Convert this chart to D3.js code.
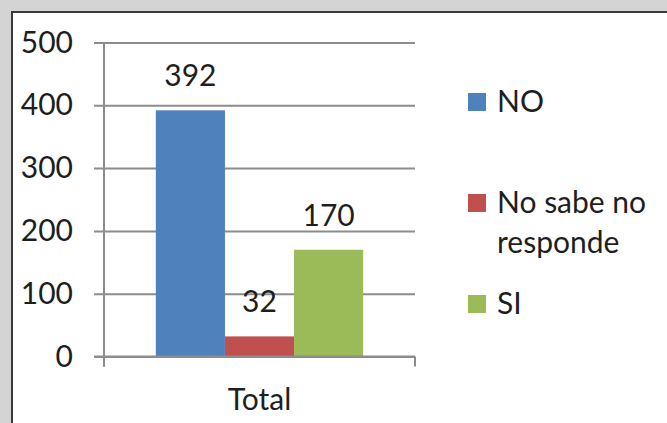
<!DOCTYPE html>
<html>
<head>
<meta charset="utf-8">
<script src="https://cdn.jsdelivr.net/npm/d3@7"></script>
<style>
  body { margin: 0; background: #d4d4d4; }
  svg { display: block; }
  text { font-family: Lato, "Open Sans", sans-serif; fill: #1e1e1e; }
</style>
</head>
<body>
<svg id="chart" width="667" height="423"></svg>
<script>
// data
var categories = ['Total'];
var series = ['NO', 'No sabe no responde', 'SI'];
var values = [392, 32, 170];
var yTicks = [0, 100, 200, 300, 400, 500];
var colors = ['#4f81bd', '#c0504d', '#9bbb59'];

var svg = d3.select('#chart');
var width = 667;
var height = 423;
var plot_left = 104, plot_right = 415;
var plot_top = 42.5, plot_bottom = 356.5;
var font_size = 30;

// panel
svg.append('rect').attr('width', width).attr('height', height).attr('fill', '#d4d4d4');
svg.append('rect')
    .attr('x', 12).attr('y', 12)
    .attr('width', width + 20).attr('height', height + 20)
    .attr('fill', '#fff')
    .attr('stroke', '#3a3a3a')
    .attr('stroke-width', 2);

var y = d3.scaleLinear().domain([0, 500]).range([plot_bottom, plot_top]);
var x = d3.scaleBand().domain(categories).range([plot_left, plot_right]);
var x1 = d3.scaleBand().domain(series).range([0, x.bandwidth()]).paddingOuter(0.75);

// grid + y labels (one axis from the right edge, ticks run to the left of the y line)
var yAxis = d3.axisLeft(y).tickValues(yTicks).tickSize(plot_right - plot_left + 10).tickPadding(21);
svg.append('g')
    .attr('transform', 'translate(' + plot_right + ',0)')
    .call(yAxis)
    .call(function(g) {
        g.select('.domain').remove();
        g.selectAll('.tick line').attr('stroke', '#8c8c8c').attr('stroke-width', 2);
        g.selectAll('.tick text')
            .attr('font-size', font_size)
            .attr('font-family', 'Lato, "Open Sans", sans-serif')
            .attr('fill', '#1e1e1e');
    });

// y axis line
svg.append('line')
    .attr('x1', plot_left).attr('x2', plot_left)
    .attr('y1', y(500)).attr('y2', y(0) + 10)
    .attr('stroke', '#8c8c8c').attr('stroke-width', 2);

// bars
var groups = svg.selectAll('g.cat').data(categories).enter().append('g')
    .attr('class', 'cat')
    .attr('transform', function(d) { return 'translate(' + x(d) + ',0)'; });

var bars = series.map(function(s, i) { return {name: s, value: values[i], color: colors[i]}; });

groups.selectAll('rect').data(bars).enter().append('rect')
    .attr('x', function(d) { return x1(d.name); })
    .attr('width', x1.bandwidth())
    .attr('y', function(d) { return y(d.value); })
    .attr('height', function(d) { return y(0) - y(d.value); })
    .attr('fill', function(d) { return d.color; });

groups.selectAll('text.val').data(bars).enter().append('text')
    .attr('class', 'val')
    .attr('x', function(d) { return x1(d.name) + x1.bandwidth() / 2; })
    .attr('y', function(d) { return y(d.value) - 24; })
    .attr('text-anchor', 'middle')
    .attr('font-size', font_size)
    .text(function(d) { return d.value; });

// x axis (drawn over bars bottom)
var xAxis = d3.axisBottom(x).tickSize(0).tickPadding(0);
svg.append('g')
    .attr('transform', 'translate(0,' + y(0) + ')')
    .call(xAxis)
    .call(function(g) {
        g.select('.domain').remove();
        g.selectAll('.tick text')
            .attr('y', 53).attr('dy', 0)
            .attr('font-size', font_size)
            .attr('font-family', 'Lato, "Open Sans", sans-serif')
            .attr('fill', '#1e1e1e');
    });
svg.append('line')
    .attr('x1', plot_left - 10).attr('x2', plot_right)
    .attr('y1', y(0)).attr('y2', y(0))
    .attr('stroke', '#8c8c8c').attr('stroke-width', 2);
x.range().forEach(function(px) {
    svg.append('line')
        .attr('x1', px).attr('x2', px)
        .attr('y1', y(0)).attr('y2', y(0) + 10)
        .attr('stroke', '#8c8c8c').attr('stroke-width', 2);
});

// legend
var legend_rows = [
    {lines: ['NO'], top: 93},
    {lines: ['No sabe no', 'responde'], top: 194},
    {lines: ['SI'], top: 295}
];
legend_rows.forEach(function(row, i) {
    var g = svg.append('g').attr('class', 'legend');
    g.append('rect')
        .attr('x', 468).attr('y', row.top)
        .attr('width', 18).attr('height', 18)
        .attr('fill', colors[i]);
    var t = g.append('text').attr('x', 497).attr('y', row.top + 19).attr('font-size', font_size);
    row.lines.forEach(function(l, j) {
        t.append('tspan').attr('x', 497).attr('dy', j ? 40 : 0).text(l);
    });
});
</script>
</body>
</html>
